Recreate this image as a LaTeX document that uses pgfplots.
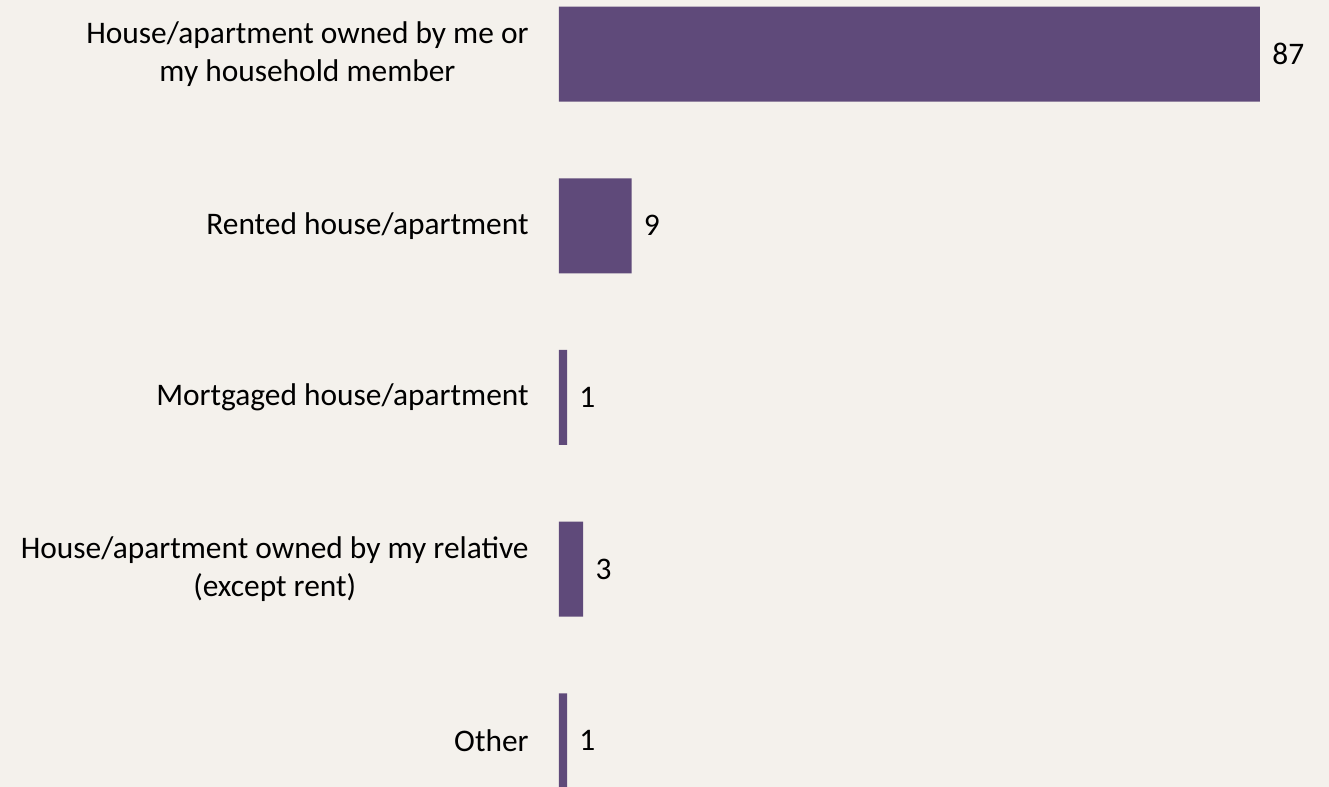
\documentclass[border=0pt]{standalone}
\usepackage{fontspec}
\setmainfont{Carlito}
\usepackage{pgfplots}
\pgfplotsset{compat=1.18}
\definecolor{bg}{HTML}{F4F1EC}
\definecolor{bar}{HTML}{5F4A7A}
\begin{document}
\begin{tikzpicture}
\useasboundingbox (0,0) rectangle (664.5pt,393.5pt);
\fill[bg] (0,0) rectangle (664.5pt,393.5pt);
\begin{axis}[
  at={(279.5pt,0pt)}, anchor=south west,
  scale only axis, width=350.5pt, height=393.5pt,
  xbar, bar width=47.5pt,
  xmin=0, xmax=87,
  ymin=-0.315, ymax=4.269, y dir=reverse,
  axis line style={draw=none},
  xtick=\empty,
  ytick={0,1,2,3,4},
  yticklabels={{House/apartment owned by me or\\my household member},
               {Rented house/apartment},
               {Mortgaged house/apartment},
               {House/apartment owned by my relative\\(except rent)},
               {Other}},
  yticklabel style={align=center, font=\fontsize{15.7}{19}\selectfont, text=black, inner sep=0pt, xshift=-15pt},
  major tick length=0pt,
  /pgf/number format/assume math mode=true,
  nodes near coords,
  every node near coord/.append style={font=\fontsize{15.7}{19}\selectfont, text=black, anchor=west, inner sep=0pt, xshift=6pt},
  clip=false,
]
\addplot[fill=bar, draw=none] coordinates {(87,0) (9,1) (1,2) (3,3) (1,4)};
\end{axis}
\end{tikzpicture}
\end{document}
